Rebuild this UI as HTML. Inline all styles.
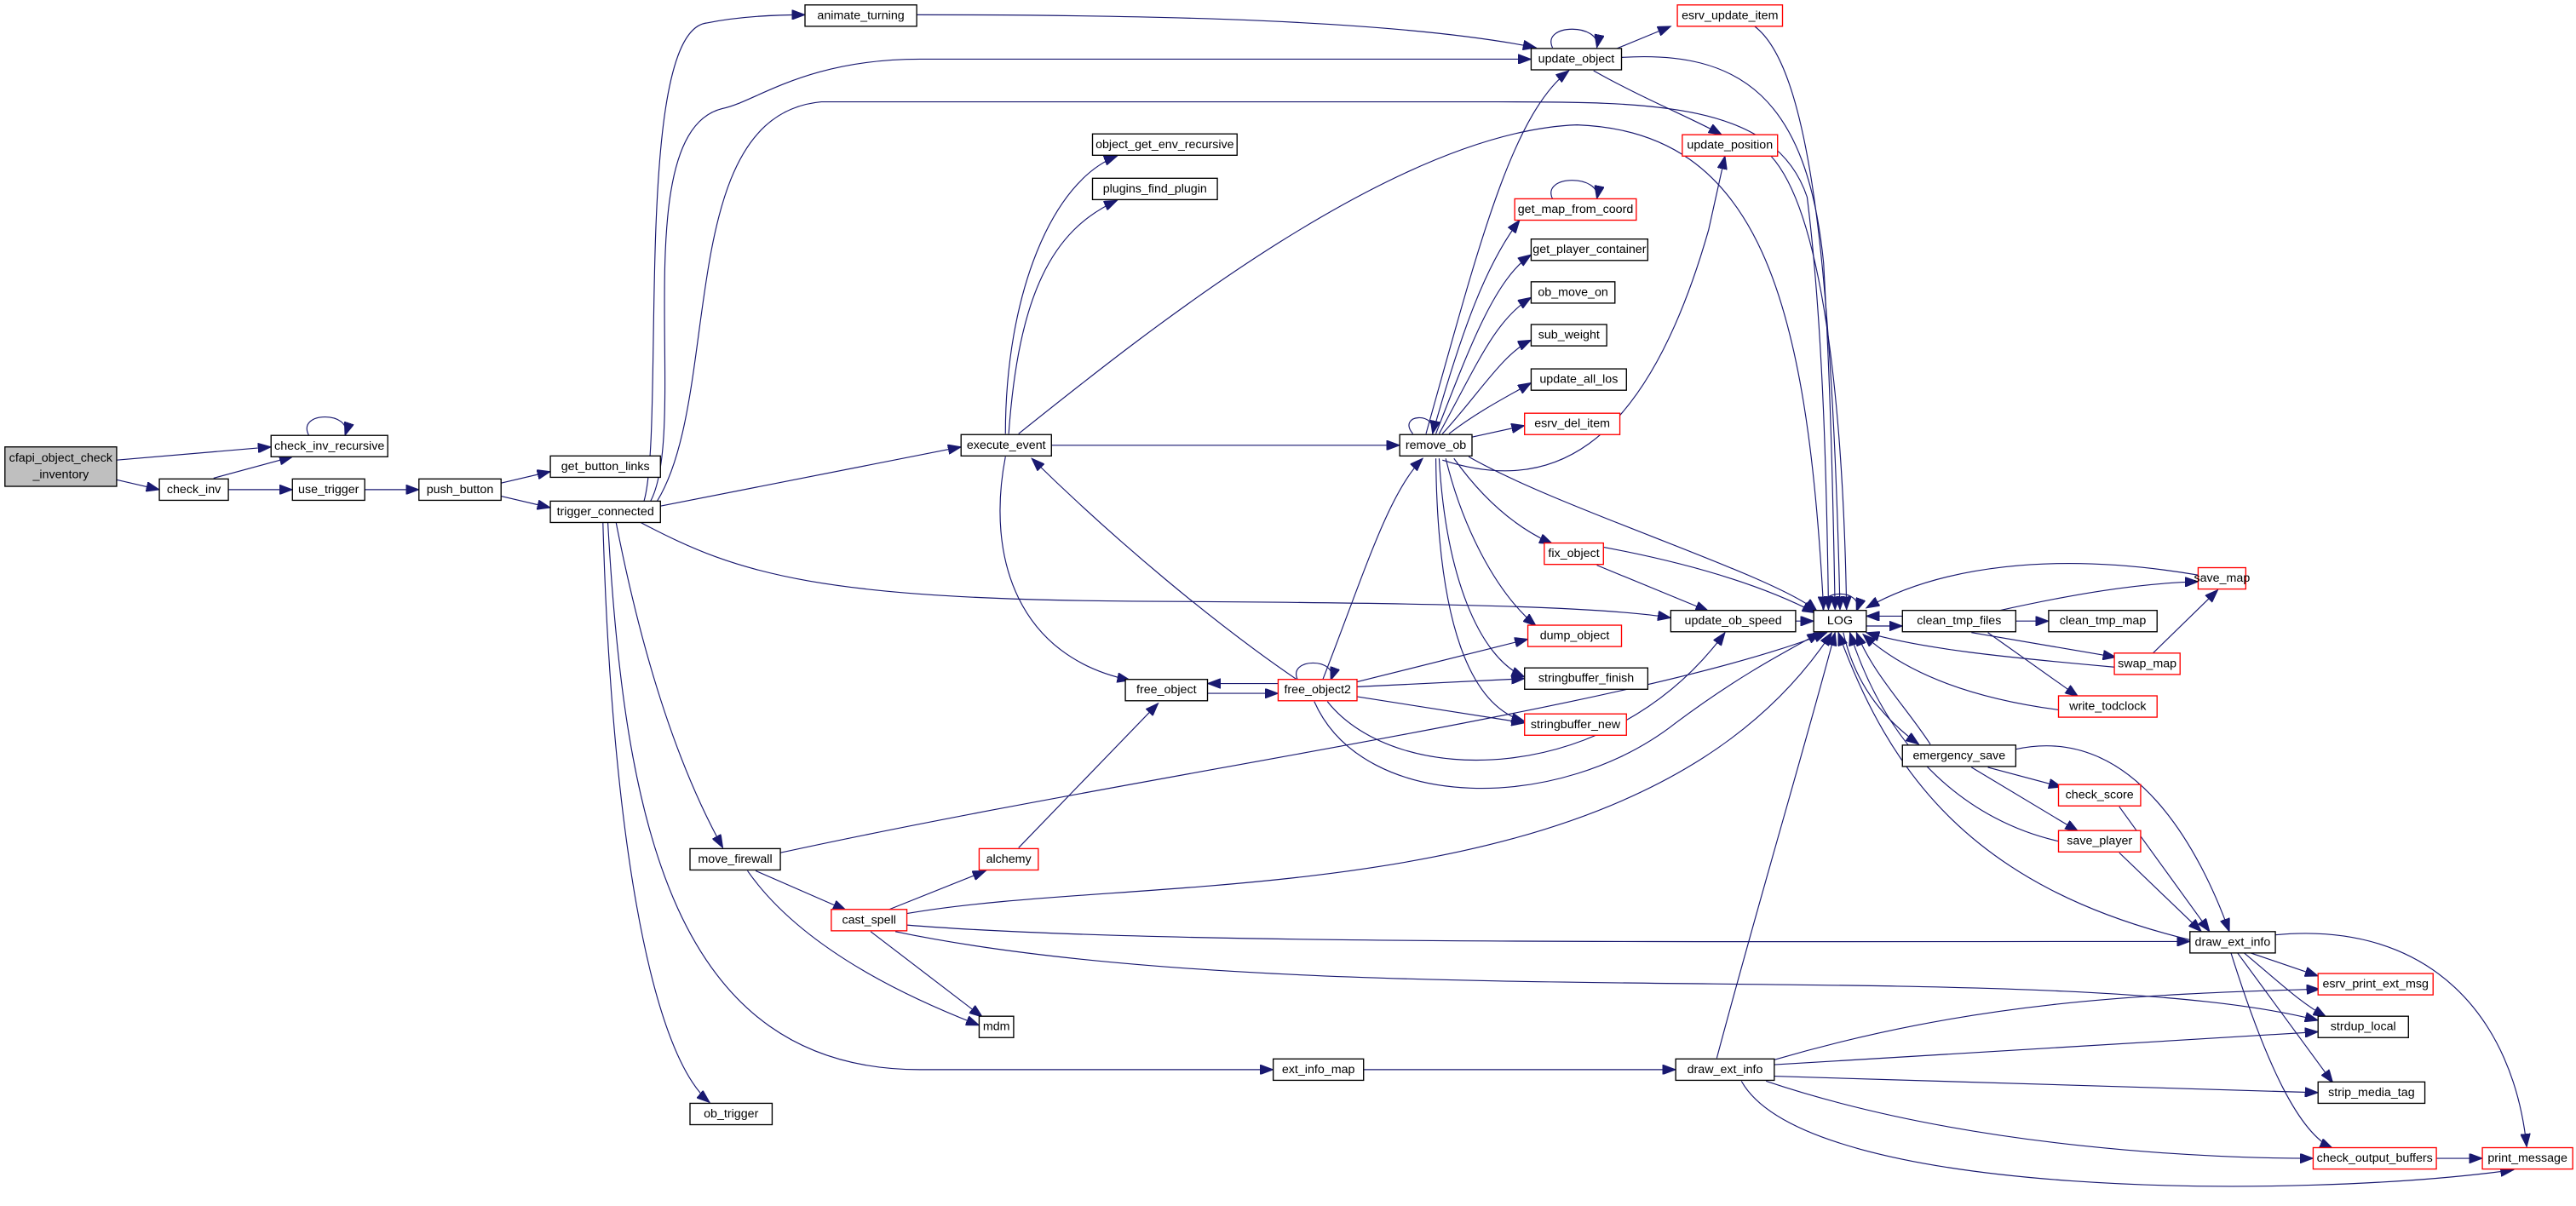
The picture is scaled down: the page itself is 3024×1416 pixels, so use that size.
<!DOCTYPE html>
<html><head><meta charset="utf-8"><style>
html,body{margin:0;padding:0;background:#fff;width:3024px;height:1416px;overflow:hidden}
svg{display:block}
text{font-family:"Liberation Sans",sans-serif;font-size:7.4px;fill:#000;text-anchor:middle;dominant-baseline:central}
.b{fill:#fff;stroke:#000;stroke-width:0.7}
.r{fill:#fff;stroke:#f00;stroke-width:0.7}
.g{fill:#bfbfbf;stroke:#000;stroke-width:0.7}
path{fill:none;stroke:#191970;stroke-width:0.6;marker-end:url(#a)}
</style></head><body>
<svg width="3024" height="1416" viewBox="0 0 1568 734" preserveAspectRatio="none" xmlns="http://www.w3.org/2000/svg">
<defs><marker id="a" markerUnits="userSpaceOnUse" markerWidth="9" markerHeight="6" refX="8" refY="3" orient="auto"><polygon points="0,0 8,3 0,6" fill="#191970" stroke="#191970" stroke-width="0.5"/></marker></defs>
<g>
<path d="M71,280 L165,272"/>
<path d="M71,292 L97,298"/>
<path d="M130,291 L178,278"/>
<path d="M188,265 C180,250 215,250 210,265"/>
<path d="M139,298 L178,298"/>
<path d="M222,298 L255,298"/>
<path d="M305,294 L335,287"/>
<path d="M305,302 L335,309"/>
<path d="M392,305 C405,260 385,20 430,14 C450,10 470,9 490,9"/>
<path d="M396,305 C420,260 380,80 440,66 C460,62 490,36 560,36 L932,36"/>
<path d="M400,305 C440,240 410,70 500,62 L900,62 C1000,62 1080,60 1100,120 C1110,200 1112,300 1113,371"/>
<path d="M402,308 L585,272"/>
<path d="M390,318 C450,350 500,365 700,366 C900,367 980,370 1017,376"/>
<path d="M375,318 C395,420 420,480 440,516"/>
<path d="M370,318 C380,500 410,651 560,651 L775,651"/>
<path d="M367,318 C372,500 395,640 432,671"/>
<path d="M558,9 C700,9 850,12 935,29"/>
<path d="M945,29 C938,14 975,14 972,29"/>
<path d="M983,30 L1017,16"/>
<path d="M970,43 C1000,60 1030,72 1048,82"/>
<path d="M986,35 C1060,30 1100,60 1110,160 C1115,250 1116,320 1117,371"/>
<path d="M1068,16 C1100,40 1115,150 1120,371"/>
<path d="M1078,95 C1110,130 1122,250 1124,371"/>
<path d="M612,264 C612,180 640,110 680,95"/>
<path d="M614,264 C620,180 640,140 680,122"/>
<path d="M620,264 C700,200 850,80 960,76 C1070,80 1100,180 1110,371"/>
<path d="M640,271 L852,271"/>
<path d="M612,278 C600,340 620,400 688,414"/>
<path d="M860,264 C850,252 875,250 872,264"/>
<path d="M868,264 C900,150 920,70 955,43"/>
<path d="M878,280 C940,300 1000,280 1040,140 L1050,95"/>
<path d="M872,264 C890,200 905,160 925,134"/>
<path d="M874,264 C895,210 910,170 932,155"/>
<path d="M876,264 C900,220 910,195 932,181"/>
<path d="M878,264 C900,240 915,215 932,207"/>
<path d="M882,264 C900,250 920,240 932,233"/>
<path d="M896,266 L928,259"/>
<path d="M894,278 C950,310 1080,350 1106,372"/>
<path d="M885,279 C900,300 920,320 945,331"/>
<path d="M880,279 C890,320 910,360 935,381"/>
<path d="M876,279 C880,350 900,400 928,412"/>
<path d="M874,279 C875,380 895,430 928,439"/>
<path d="M945,121 C938,106 975,106 972,121"/>
<path d="M976,333 C1040,345 1080,360 1105,373"/>
<path d="M972,344 L1040,372"/>
<path d="M735,422 L778,422"/>
<path d="M778,416 L735,416"/>
<path d="M790,414 C783,400 815,400 810,414"/>
<path d="M790,414 C740,380 680,330 628,279"/>
<path d="M805,414 C830,350 845,300 866,279"/>
<path d="M826,415 L930,389"/>
<path d="M826,418 L928,413"/>
<path d="M826,424 L928,440"/>
<path d="M808,427 C850,480 980,480 1050,385"/>
<path d="M800,427 C830,495 950,495 1020,440 C1060,410 1090,395 1108,385"/>
<path d="M1093,378 L1104,378"/>
<path d="M1110,372 C1105,358 1135,358 1130,372"/>
<path d="M1136,381 L1158,381"/>
<path d="M1158,375 L1136,375"/>
<path d="M1227,378 L1247,378"/>
<path d="M1215,372 C1260,362 1300,355 1338,354"/>
<path d="M1200,385 L1288,400"/>
<path d="M1210,385 L1265,424"/>
<path d="M1338,350 C1250,335 1180,345 1136,370"/>
<path d="M1287,406 C1220,400 1170,395 1136,385"/>
<path d="M1310,398 L1350,359"/>
<path d="M1253,432 C1200,425 1160,410 1134,386"/>
<path d="M1175,453 C1160,430 1140,410 1130,385"/>
<path d="M1122,385 C1130,420 1150,440 1168,453"/>
<path d="M1210,467 L1255,479"/>
<path d="M1200,467 L1265,506"/>
<path d="M1227,456 C1300,440 1340,520 1357,567"/>
<path d="M1290,491 L1345,567"/>
<path d="M1290,519 L1340,567"/>
<path d="M1253,512 C1200,500 1150,460 1126,385"/>
<path d="M1333,572 C1200,540 1150,470 1119,385"/>
<path d="M1370,580 L1411,594"/>
<path d="M1366,580 C1390,600 1400,610 1416,619"/>
<path d="M1362,580 L1420,659"/>
<path d="M1358,580 C1380,650 1400,690 1420,699"/>
<path d="M1385,569 C1480,560 1530,620 1538,698"/>
<path d="M1483,705 L1511,705"/>
<path d="M475,519 C700,470 1000,430 1112,385"/>
<path d="M460,530 L515,554"/>
<path d="M455,530 C490,580 560,610 596,624"/>
<path d="M540,554 L600,530"/>
<path d="M530,567 L598,619"/>
<path d="M552,556 C700,530 1000,560 1115,385"/>
<path d="M552,563 C700,575 1000,573 1333,573"/>
<path d="M545,567 C800,620 1250,580 1411,621"/>
<path d="M620,516 L705,428"/>
<path d="M830,651 L1020,651"/>
<path d="M1045,644 C1070,550 1100,450 1117,385"/>
<path d="M1080,645 C1200,610 1300,605 1412,602"/>
<path d="M1080,648 L1411,628"/>
<path d="M1080,655 L1411,665"/>
<path d="M1075,658 C1200,700 1350,705 1408,705"/>
<path d="M1060,658 C1100,730 1400,730 1530,712"/>
</g>
<g>
<rect class="g" x="3" y="272" width="68" height="24"/><text x="37" y="279">cfapi_object_check</text><text x="37" y="289">_inventory</text>
<rect class="b" x="165" y="265" width="71" height="13"/><text x="200.5" y="271.5">check_inv_recursive</text>
<rect class="b" x="97" y="291.5" width="42" height="13"/><text x="118" y="298">check_inv</text>
<rect class="b" x="178" y="291.5" width="44" height="13"/><text x="200" y="298">use_trigger</text>
<rect class="b" x="255" y="291.5" width="50" height="13"/><text x="280" y="298">push_button</text>
<rect class="b" x="335" y="277.5" width="67" height="13"/><text x="368.5" y="284">get_button_links</text>
<rect class="b" x="335" y="305" width="67" height="13"/><text x="368.5" y="311.5">trigger_connected</text>
<rect class="b" x="490" y="3" width="68" height="13"/><text x="524" y="9.5">animate_turning</text>
<rect class="b" x="932" y="29.5" width="55" height="13"/><text x="959.5" y="36">update_object</text>
<rect class="r" x="1021" y="3" width="64" height="13"/><text x="1053" y="9.5">esrv_update_item</text>
<rect class="r" x="1024" y="82" width="58" height="13"/><text x="1053" y="88.5">update_position</text>
<rect class="b" x="665" y="81.5" width="88" height="13"/><text x="709" y="88">object_get_env_recursive</text>
<rect class="b" x="665" y="108.5" width="76" height="13"/><text x="703" y="115">plugins_find_plugin</text>
<rect class="r" x="922" y="121" width="74" height="13"/><text x="959" y="127.5">get_map_from_coord</text>
<rect class="b" x="932" y="145.5" width="71" height="13"/><text x="967.5" y="152">get_player_container</text>
<rect class="b" x="932" y="171.5" width="51" height="13"/><text x="957.5" y="178">ob_move_on</text>
<rect class="b" x="932" y="197.5" width="46" height="13"/><text x="955" y="204">sub_weight</text>
<rect class="b" x="932" y="224.5" width="58" height="13"/><text x="961" y="231">update_all_los</text>
<rect class="r" x="928" y="251.5" width="58" height="13"/><text x="957" y="258">esrv_del_item</text>
<rect class="b" x="585" y="264.5" width="55" height="13"/><text x="612.5" y="271">execute_event</text>
<rect class="b" x="852" y="264.5" width="44" height="13"/><text x="874" y="271">remove_ob</text>
<rect class="r" x="940" y="330.5" width="36" height="13"/><text x="958" y="337">fix_object</text>
<rect class="r" x="930" y="380.5" width="57" height="13"/><text x="958.5" y="387">dump_object</text>
<rect class="b" x="928" y="406.5" width="75" height="13"/><text x="965.5" y="413">stringbuffer_finish</text>
<rect class="r" x="928" y="434.5" width="62" height="13"/><text x="959" y="441">stringbuffer_new</text>
<rect class="b" x="685" y="413.5" width="50" height="13"/><text x="710" y="420">free_object</text>
<rect class="r" x="778" y="413.5" width="48" height="13"/><text x="802" y="420">free_object2</text>
<rect class="b" x="1017" y="371.5" width="76" height="13"/><text x="1055" y="378">update_ob_speed</text>
<rect class="b" x="1104" y="371.5" width="32" height="13"/><text x="1120" y="378">LOG</text>
<rect class="b" x="1158" y="371.5" width="69" height="13"/><text x="1192.5" y="378">clean_tmp_files</text>
<rect class="b" x="1247" y="371.5" width="66" height="13"/><text x="1280" y="378">clean_tmp_map</text>
<rect class="r" x="1338" y="345.5" width="29" height="13"/><text x="1352.5" y="352">save_map</text>
<rect class="r" x="1287" y="397.5" width="40" height="13"/><text x="1307" y="404">swap_map</text>
<rect class="r" x="1253" y="423.5" width="60" height="13"/><text x="1283" y="430">write_todclock</text>
<rect class="b" x="1158" y="453.5" width="69" height="13"/><text x="1192.5" y="460">emergency_save</text>
<rect class="r" x="1253" y="477.5" width="50" height="13"/><text x="1278" y="484">check_score</text>
<rect class="r" x="1253" y="505.5" width="50" height="13"/><text x="1278" y="512">save_player</text>
<rect class="b" x="420" y="516.5" width="55" height="13"/><text x="447.5" y="523">move_firewall</text>
<rect class="r" x="596" y="516.5" width="36" height="13"/><text x="614" y="523">alchemy</text>
<rect class="r" x="506" y="553.5" width="46" height="13"/><text x="529" y="560">cast_spell</text>
<rect class="b" x="596" y="618.5" width="21" height="13"/><text x="606.5" y="625">mdm</text>
<rect class="b" x="1333" y="567" width="52" height="13"/><text x="1359" y="573.5">draw_ext_info</text>
<rect class="r" x="1411" y="592.5" width="70" height="13"/><text x="1446" y="599">esrv_print_ext_msg</text>
<rect class="b" x="1411" y="618.5" width="55" height="13"/><text x="1438.5" y="625">strdup_local</text>
<rect class="b" x="1411" y="658.5" width="65" height="13"/><text x="1443.5" y="665">strip_media_tag</text>
<rect class="r" x="1408" y="698.5" width="75" height="13"/><text x="1445.5" y="705">check_output_buffers</text>
<rect class="r" x="1511" y="698.5" width="55" height="13"/><text x="1538.5" y="705">print_message</text>
<rect class="b" x="775" y="644.5" width="55" height="13"/><text x="802.5" y="651">ext_info_map</text>
<rect class="b" x="1020" y="644.5" width="60" height="13"/><text x="1050" y="651">draw_ext_info</text>
<rect class="b" x="420" y="671.5" width="50" height="13"/><text x="445" y="678">ob_trigger</text>
</g>
</svg>
</body></html>
